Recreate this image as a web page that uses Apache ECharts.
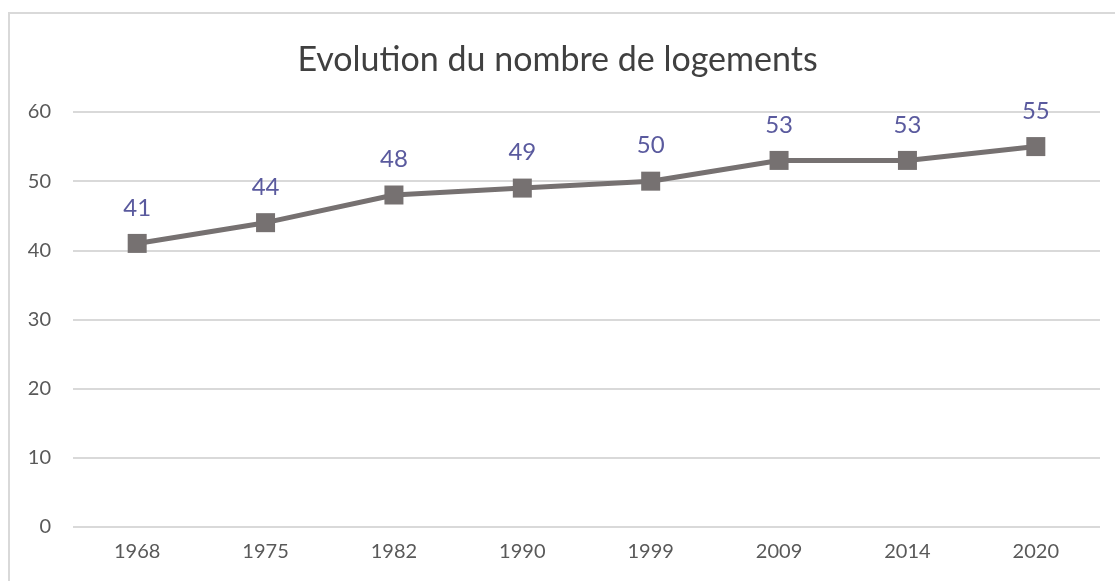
<!DOCTYPE html>
<html>
<head>
<meta charset="utf-8">
<script src="https://cdn.jsdelivr.net/npm/echarts@6/dist/echarts.min.js"></script>
<style>
  html, body { margin: 0; padding: 0; background: #fff; }
  #frame {
    position: absolute; left: 8px; top: 12px; width: 1200px; height: 700px;
    border-left: 2px solid #d9d9d9; border-top: 2px solid #d9d9d9;
  }
  #chart { position: absolute; left: 0; top: 0; width: 1115px; height: 581px; }
</style>
</head>
<body>
<div id="frame"></div>
<div id="chart"></div>
<script>
const years = ['1968', '1975', '1982', '1990', '1999', '2009', '2014', '2020'];
const logements = [41, 44, 48, 49, 50, 53, 53, 55];
const yTicks = { min: 0, max: 60, step: 10 };

const font = 'Lato, "Noto Sans", sans-serif';

const chart = echarts.init(document.getElementById('chart'), null, { renderer: 'canvas' });

chart.setOption({
  animation: false,
  title: {
    text: 'Evolution du nombre de logements',
    left: 'center',
    top: 38,
    textStyle: { fontFamily: font, fontSize: 34, fontWeight: 'normal', color: '#404040' }
  },
  grid: { left: 73, right: 15, top: 112, bottom: 54 },
  xAxis: {
    type: 'category',
    data: years,
    boundaryGap: true,
    axisLine: { show: false },
    axisTick: { show: false },
    axisLabel: { color: '#595959', fontFamily: font, fontSize: 20, margin: 15 }
  },
  yAxis: {
    type: 'value',
    min: yTicks.min,
    max: yTicks.max,
    interval: yTicks.step,
    axisLine: { show: false },
    axisTick: { show: false },
    axisLabel: { color: '#595959', fontFamily: font, fontSize: 20, margin: 22 },
    splitLine: { lineStyle: { color: '#d9d9d9', width: 2 } }
  },
  series: [{
    type: 'line',
    data: logements,
    symbol: 'rect',
    symbolSize: 19,
    lineStyle: { color: '#767171', width: 5 },
    itemStyle: { color: '#767171' },
    label: {
      show: true,
      position: 'top',
      distance: 14,
      color: '#5a5a9e',
      fontFamily: font,
      fontSize: 24
    }
  }]
});
</script>
</body>
</html>
